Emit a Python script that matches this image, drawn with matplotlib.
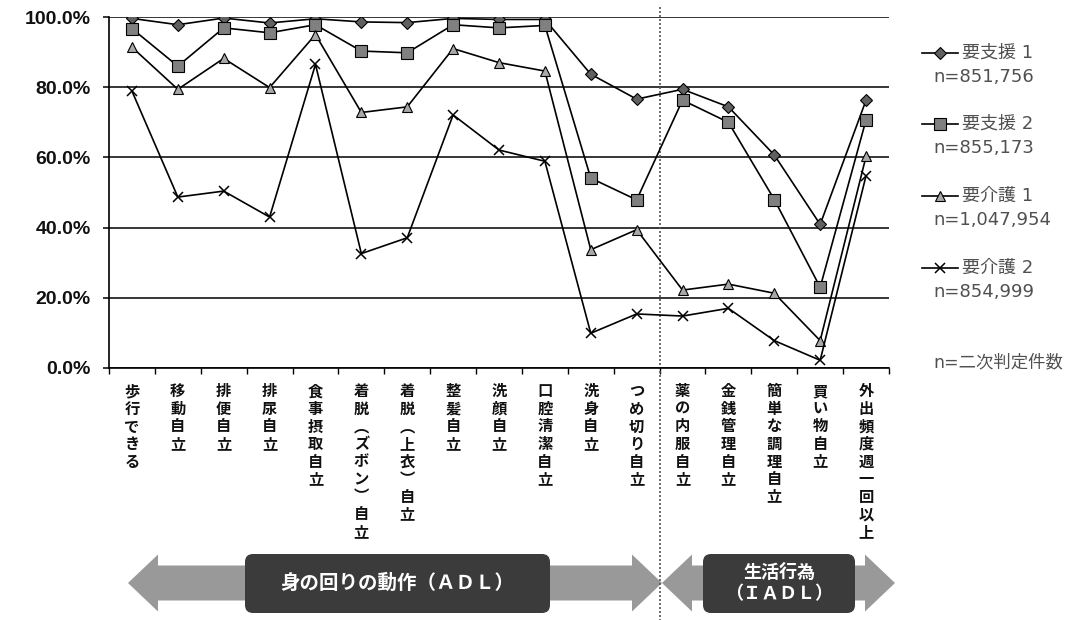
import numpy as np
import matplotlib
matplotlib.use("Agg")
import matplotlib.pyplot as plt
from matplotlib.patches import Polygon, FancyBboxPatch
from matplotlib.lines import Line2D

plt.rcParams['font.family'] = ['Noto Sans CJK JP', 'DejaVu Sans']

# 項目（縦書きラベル）
categories = [
    "歩行できる", "移動自立", "排便自立", "排尿自立", "食事摂取自立",
    "着脱︵ズボン︶自立", "着脱︵上衣︶自立", "整髪自立", "洗顔自立", "口腔清潔自立",
    "洗身自立", "つめ切り自立", "薬の内服自立", "金銭管理自立", "簡単な調理自立",
    "買い物自立", "外出頻度週一回以上",
]
n_adl = 12  # 前半12項目がADL、残りがIADL

series_names = ["要支援 1", "要支援 2", "要介護 1", "要介護 2"]
series_n = ["n=851,756", "n=855,173", "n=1,047,954", "n=854,999"]

shien1 = [99.6, 97.8, 99.7, 98.3, 99.5, 98.6, 98.4, 99.6, 99.3, 99.3,
          83.7, 76.6, 79.4, 74.4, 60.7, 40.9, 76.3]
shien2 = [96.7, 86.0, 96.9, 95.5, 97.8, 90.3, 89.8, 97.8, 96.9, 97.6,
          54.1, 47.9, 76.3, 70.0, 48.0, 23.0, 70.7]
kaigo1 = [91.4, 79.4, 88.2, 79.9, 95.0, 72.8, 74.4, 91.0, 87.0, 84.6,
          33.7, 39.4, 22.2, 23.9, 21.3, 7.8, 60.3]
kaigo2 = [78.9, 48.7, 50.4, 43.0, 86.5, 32.6, 37.1, 72.1, 62.1, 58.9,
          9.9, 15.4, 14.8, 17.0, 7.8, 2.2, 54.8]

series = [shien1, shien2, kaigo1, kaigo2]
styles = [
    dict(marker="D", ms=6, mfc="#606060", mec="black", mew=0.8),
    dict(marker="s", ms=8, mfc="#808080", mec="black", mew=0.8),
    dict(marker="^", ms=7.5, mfc="#a8a8a8", mec="black", mew=0.8),
    dict(marker="x", ms=7, mfc="none", mec="black", mew=1.1),
]

W, H = 1076, 620
fig = plt.figure(figsize=(W / 100, H / 100), dpi=100)
ax = fig.add_axes([109 / W, 1 - 368 / H, 780 / W, 351 / H])

x = np.arange(len(categories))
for vals, st in zip(series, styles):
    ax.plot(x, vals, color="black", lw=1.2, zorder=3, **st)

ax.set_xlim(-0.5, len(categories) - 0.5)
ax.set_ylim(0, 100)
ax.set_yticks(range(0, 101, 20))
ax.set_yticklabels([f"{v:.1f}%" for v in range(0, 101, 20)],
                   family="Liberation Sans", fontweight="bold", fontsize=14,
                   color="#111111")
ax.yaxis.grid(True, color="black", lw=1.1)
ax.set_axisbelow(True)
for s in ["top", "right"]:
    ax.spines[s].set_visible(False)
for s in ["left", "bottom"]:
    ax.spines[s].set_linewidth(1.2)
ax.tick_params(axis="y", length=4, width=1.1, pad=9)

ax.set_xticks(np.arange(-0.5, len(categories), 1))
ax.set_xticklabels([])
ax.tick_params(axis="x", which="major", length=4, width=1.0, direction="out")
ax.set_xticks(x, ["\n".join(c) for c in categories], minor=True)
ax.tick_params(axis="x", which="minor", length=0, pad=11)
for t in ax.get_xticklabels(minor=True):
    t.set_fontweight("bold")
    t.set_fontsize(11)
    t.set_linespacing(1.12)
    t.set_color("#111111")

# ADL / IADL の境界線
ax.axvline(n_adl - 0.5, ymin=-0.72, ymax=1.035, clip_on=False,
           color="#555555", lw=1.2, ls=(0, (1.2, 1.2)), zorder=1)

# 下部の矢印・ラベル
ov = fig.add_axes([0, 0, 1, 1], zorder=-1)
ov.set_xlim(0, W)
ov.set_ylim(H, 0)
ov.axis("off")

gray = "#999999"
cy = 583


def double_arrow(x0, x1, head=30, hh=28.5, sh=17.5):
    pts = [(x0, cy), (x0 + head, cy - hh), (x0 + head, cy - sh),
           (x1 - head, cy - sh), (x1 - head, cy - hh), (x1, cy),
           (x1 - head, cy + hh), (x1 - head, cy + sh), (x0 + head, cy + sh),
           (x0 + head, cy + hh)]
    ov.add_patch(Polygon(pts, closed=True, fc=gray, ec="none"))


double_arrow(128, 662)
double_arrow(662, 895)

for bx0, bx1, label, fs, lsp in [(245, 550, "身の回りの動作（ＡＤＬ）", 14, 1.0),
                                 (703, 855, "生活行為\n（ＩＡＤＬ）", 13, 1.2)]:
    ov.add_patch(FancyBboxPatch((bx0, 554), bx1 - bx0, 59,
                                boxstyle="round,pad=0,rounding_size=8",
                                fc="#3b3b3b", ec="none"))
    ov.text((bx0 + bx1) / 2, cy, label, color="white", fontsize=fs,
            fontweight="bold", ha="center", va="center", linespacing=lsp)

# 凡例
leg_font = ['DejaVu Sans', 'Noto Sans CJK JP']
leg_y = [53, 124, 196, 268]
for name, n, st, y in zip(series_names, series_n, styles, leg_y):
    ov.add_line(Line2D([922, 940, 958], [y, y, y], color="black", lw=1.2,
                       markevery=[1], **st))
    ov.text(962, y, name, fontsize=13, family=leg_font, color="#505050",
            ha="left", va="center")
    ov.text(933, y + 24, n, fontsize=13, family=leg_font, color="#505050",
            ha="left", va="center")
ov.text(933, 362, "n=二次判定件数", fontsize=12.5, family=leg_font,
        color="#505050", ha="left", va="center")

fig.savefig("out.png", dpi=100)
